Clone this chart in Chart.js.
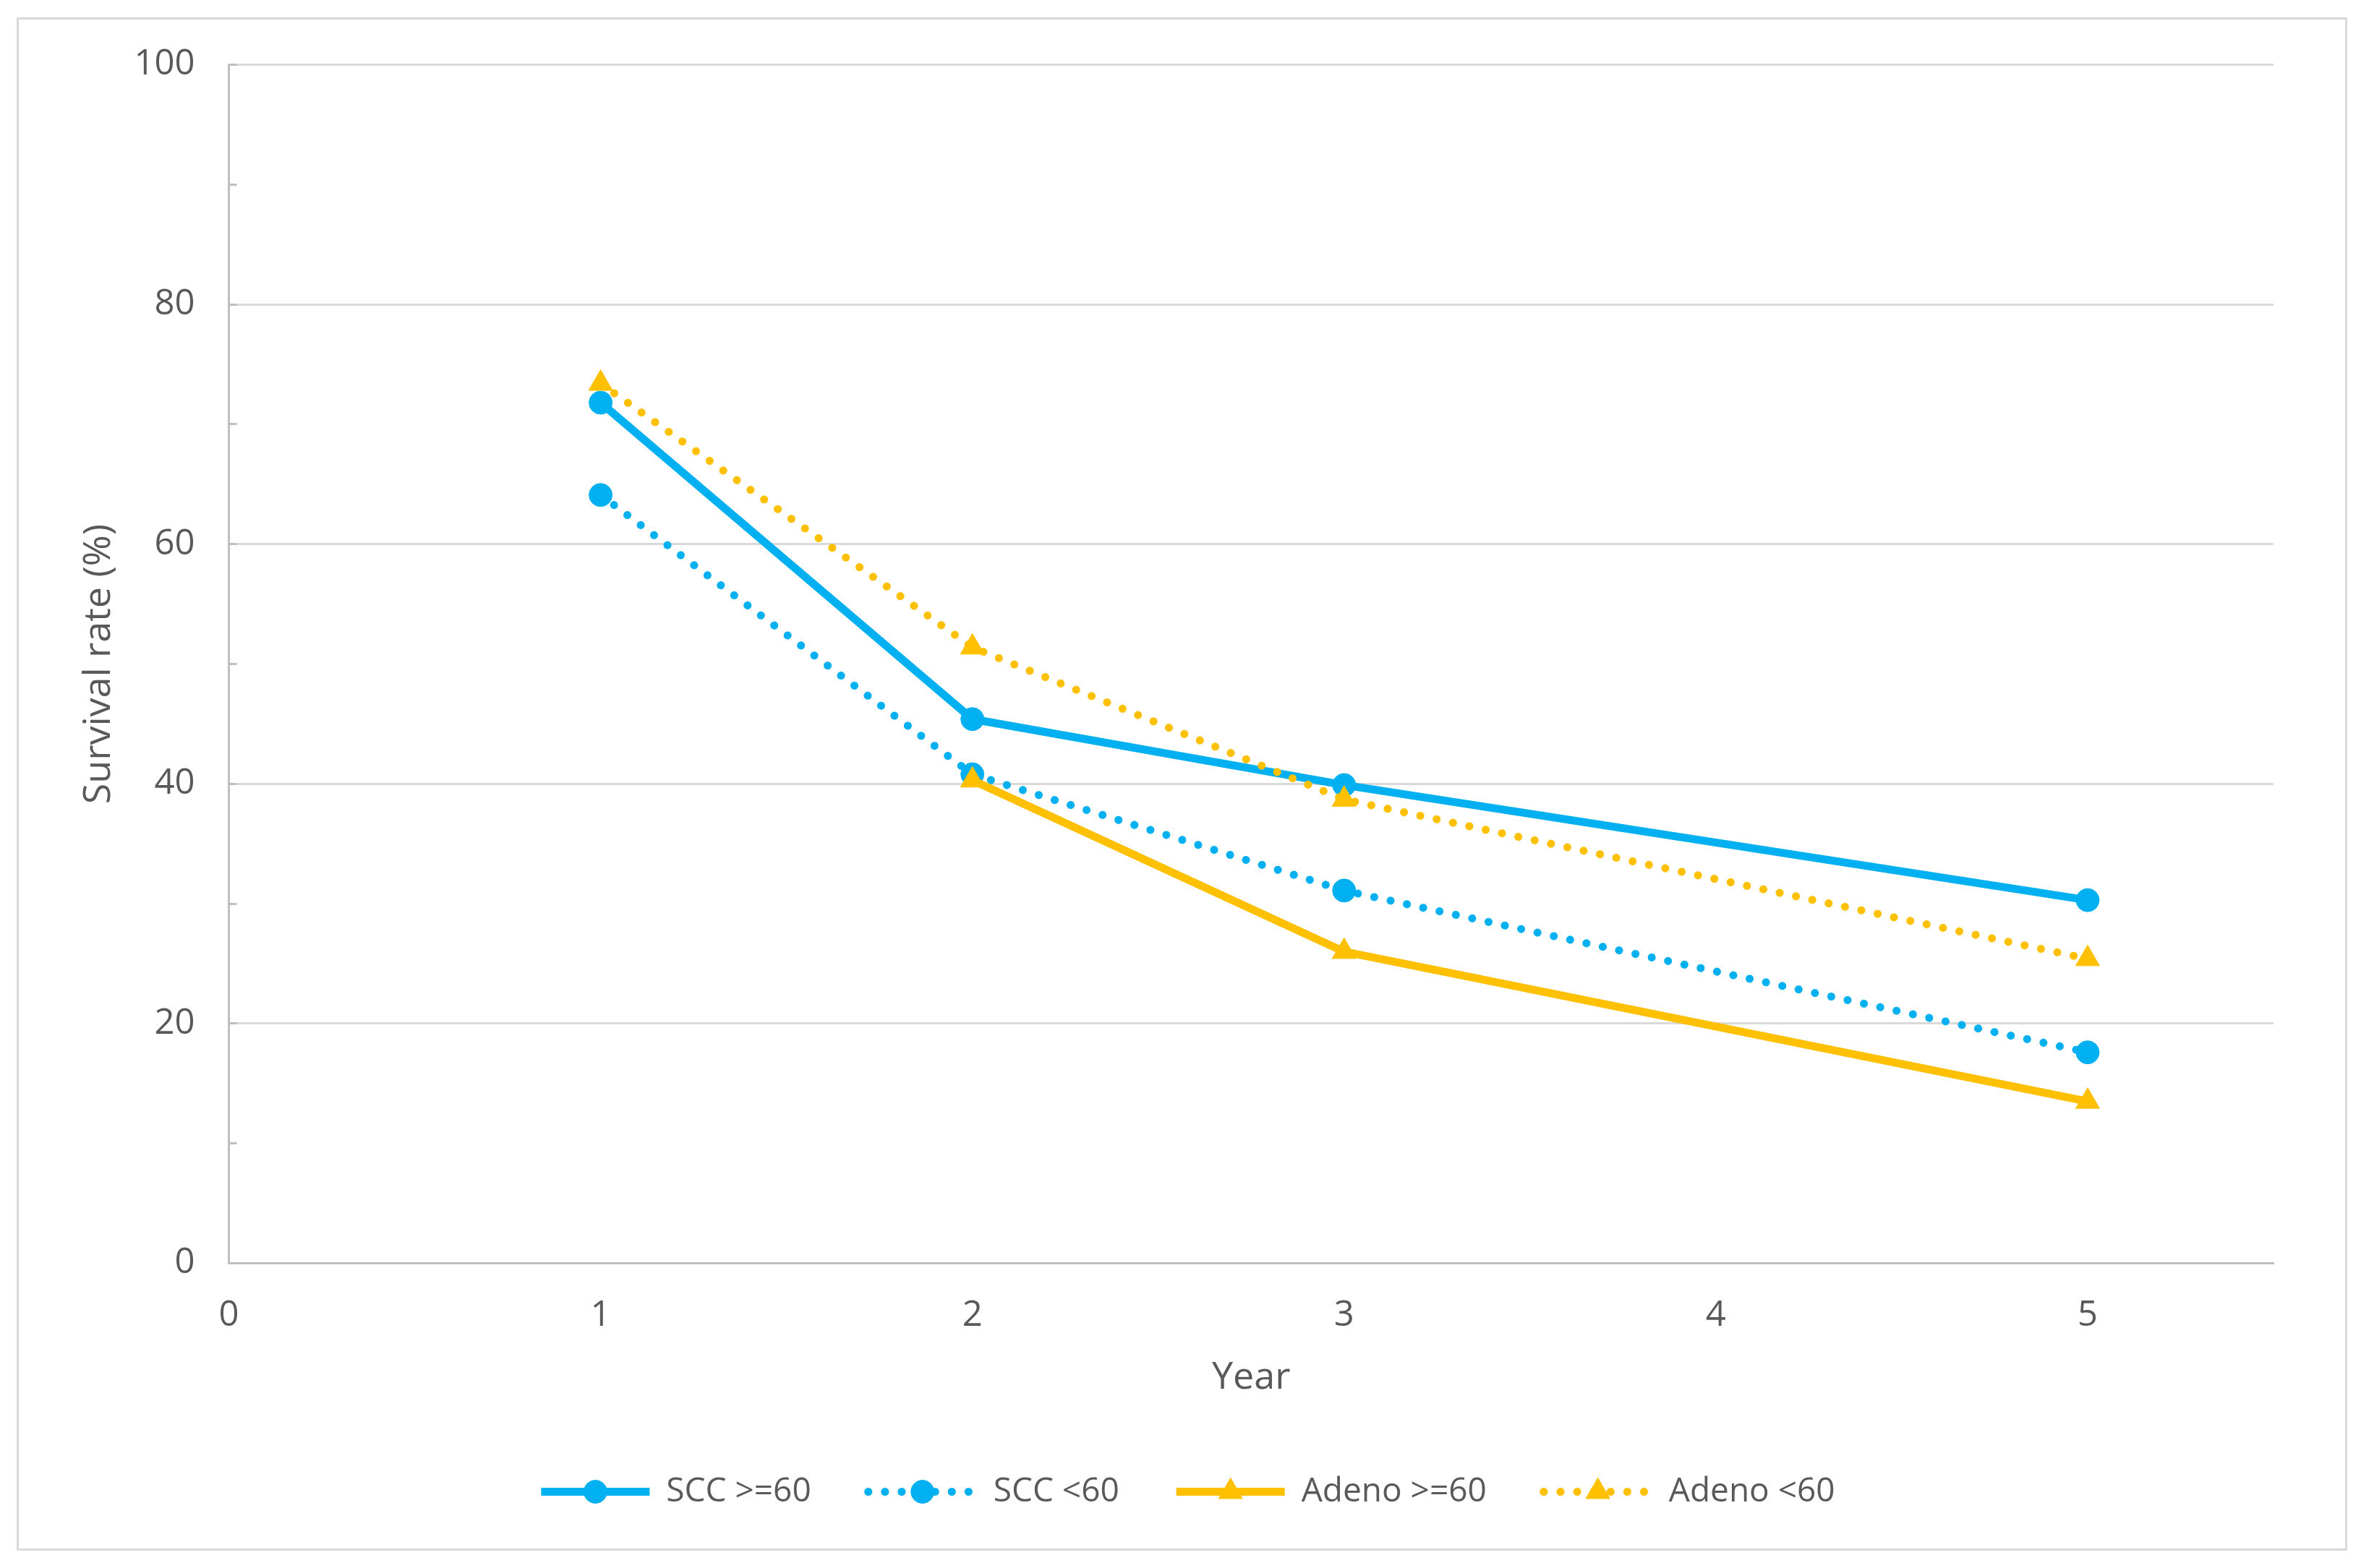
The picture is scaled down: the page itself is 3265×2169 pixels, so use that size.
<!DOCTYPE html>
<html>
<head>
<meta charset="utf-8">
<title>Survival rate by year</title>
<script src="https://cdn.jsdelivr.net/npm/chart.js@4/dist/chart.umd.min.js"></script>
<style>
  html, body { margin: 0; padding: 0; background: #fff; }
  #frame {
    position: absolute; left: 23px; top: 24px;
    width: 3217px; height: 2115px;
    border: 3px solid #d9d9d9;
  }
  #wrap { position: absolute; left: 0; top: 0; width: 3265px; height: 2169px; }
</style>
</head>
<body>
<div id="frame"></div>
<div id="wrap"><canvas id="myChart" width="3265" height="2169"></canvas></div>
<script>
// data
const years = [1, 2, 3, 5];
const sccOld = [71.8, 45.4, 39.9, 30.3];      // SCC >=60
const sccYoung = [64.1, 40.8, 31.1, 17.6];    // SCC <60
const adenoOld = [null, 40.3, 26.0, 13.5];    // Adeno >=60 (no year 1 value)
const adenoYoung = [73.4, 51.4, 38.7, 25.4];  // Adeno <60

const seriesLabels = ["SCC >=60", "SCC <60", "Adeno >=60", "Adeno <60"];
const xTickLabels = [0, 1, 2, 3, 4, 5];
const yTickLabels = [0, 20, 40, 60, 80, 100];

const BLUE = "#00b0f0";
const GOLD = "#ffc000";
const TEXT = "#595959";

Chart.defaults.font.family = "'Open Sans', sans-serif";
Chart.defaults.color = TEXT;

function toPoints(values) {
    return years.map((x, i) => ({ x: x, y: values[i] }));
}

function makeSet(label, values, color, dotted, style, order) {
    return {
        label: label,
        data: toPoints(values),
        borderColor: color,
        backgroundColor: color,
        borderWidth: dotted ? 11 : 11,
        borderDash: dotted ? [0.1, 23] : [],
        borderCapStyle: dotted ? "round" : "butt",
        borderJoinStyle: "round",
        pointStyle: style,
        pointRadius: style === "triangle" ? 19 : 16,
        pointBorderWidth: 1,
        pointBackgroundColor: color,
        pointBorderColor: color,
        spanGaps: false,
        order: order,
    };
}

// minor tick marks half way between labelled ticks
const yAllTicks = [];
yTickLabels.forEach((v, i) => {
    yAllTicks.push(v);
    if (i < yTickLabels.length - 1) yAllTicks.push((v + yTickLabels[i + 1]) / 2);
});

// legend symbols: line sample + marker, drawn over the legend boxes
const legendSymbols = {
    id: "legendSymbols",
    afterDraw(chart) {
        const legend = chart.legend;
        if (!legend || !legend.legendHitBoxes) return;
        const ctx = chart.ctx;
        const boxW = legend.options.labels.boxWidth;
        legend.legendHitBoxes.forEach((hb, i) => {
            const ds = chart.data.datasets[i];
            const cy = hb.top + hb.height / 2;
            ctx.save();
            ctx.strokeStyle = ds.borderColor;
            ctx.fillStyle = ds.borderColor;
            ctx.lineWidth = ds.borderWidth;
            ctx.lineCap = ds.borderCapStyle;
            ctx.setLineDash(ds.borderDash);
            ctx.beginPath();
            ctx.moveTo(hb.left, cy);
            ctx.lineTo(hb.left + boxW, cy);
            ctx.stroke();
            ctx.setLineDash([]);
            ctx.lineWidth = 1;
            Chart.helpers.drawPoint(ctx, {
                pointStyle: ds.pointStyle,
                radius: ds.pointRadius,
                borderWidth: 1,
                rotation: 0,
            }, hb.left + boxW / 2, cy);
            ctx.restore();
        });
    },
};

const ctx = document.getElementById("myChart").getContext("2d");
const myChart = new Chart(ctx, {
    type: "line",
    data: {
        datasets: [
            makeSet(seriesLabels[0], sccOld, BLUE, false, "circle", 4),
            makeSet(seriesLabels[1], sccYoung, BLUE, true, "circle", 3),
            makeSet(seriesLabels[2], adenoOld, GOLD, false, "triangle", 2),
            makeSet(seriesLabels[3], adenoYoung, GOLD, true, "triangle", 1),
        ],
    },
    options: {
        responsive: false,
        animation: false,
        devicePixelRatio: 1,
        layout: {
            padding: { left: 142, right: 121, top: 89.5, bottom: 72.5 },
        },
        plugins: {
            tooltip: { enabled: false },
            legend: {
                position: "bottom",
                labels: {
                    boxWidth: 150,
                    boxHeight: 10,
                    padding: 79,
                    color: TEXT,
                    font: { size: 46 },
                    generateLabels(chart) {
                        return chart.data.datasets.map((ds, i) => ({
                            text: ds.label,
                            fillStyle: "rgba(0,0,0,0)",
                            strokeStyle: "rgba(0,0,0,0)",
                            lineWidth: 0,
                            hidden: false,
                            datasetIndex: i,
                            fontColor: TEXT,
                        }));
                    },
                },
            },
        },
        scales: {
            x: {
                type: "linear",
                min: 0,
                max: 5.5,
                afterBuildTicks: (scale) => {
                    scale.ticks = xTickLabels.map((v) => ({ value: v }));
                },
                afterFit: (scale) => { scale.height = 214; },
                grid: { display: false, drawTicks: false },
                border: { display: true, color: "#bfbfbf", width: 3 },
                ticks: {
                    autoSkip: false,
                    maxRotation: 0,
                    padding: 43,
                    color: TEXT,
                    font: { size: 49 },
                },
                title: {
                    display: true,
                    text: "Year",
                    color: TEXT,
                    font: { size: 52 },
                    padding: { top: 0, bottom: 24 },
                },
            },
            y: {
                min: 0,
                max: 100,
                afterBuildTicks: (scale) => {
                    scale.ticks = yAllTicks.map((v) => ({ value: v }));
                },
                afterFit: (scale) => { scale.width = 174.5; },
                grid: {
                    color: (c) => (yTickLabels.includes(c.tick.value) ? "#d9d9d9" : "rgba(0,0,0,0)"),
                    lineWidth: 3,
                    drawTicks: true,
                    tickLength: -11,
                    tickColor: "#bfbfbf",
                    tickWidth: 3,
                },
                border: { display: true, color: "#bfbfbf", width: 3 },
                ticks: {
                    autoSkip: false,
                    padding: 58,
                    color: TEXT,
                    font: { size: 49 },
                    callback: (v) => (yTickLabels.includes(v) ? String(v) : ""),
                },
                title: {
                    display: true,
                    text: "Survival rate (%)",
                    color: TEXT,
                    font: { size: 52 },
                    padding: { top: -36, bottom: 0 },
                },
            },
        },
    },
    plugins: [legendSymbols],
});
</script>
</body>
</html>
